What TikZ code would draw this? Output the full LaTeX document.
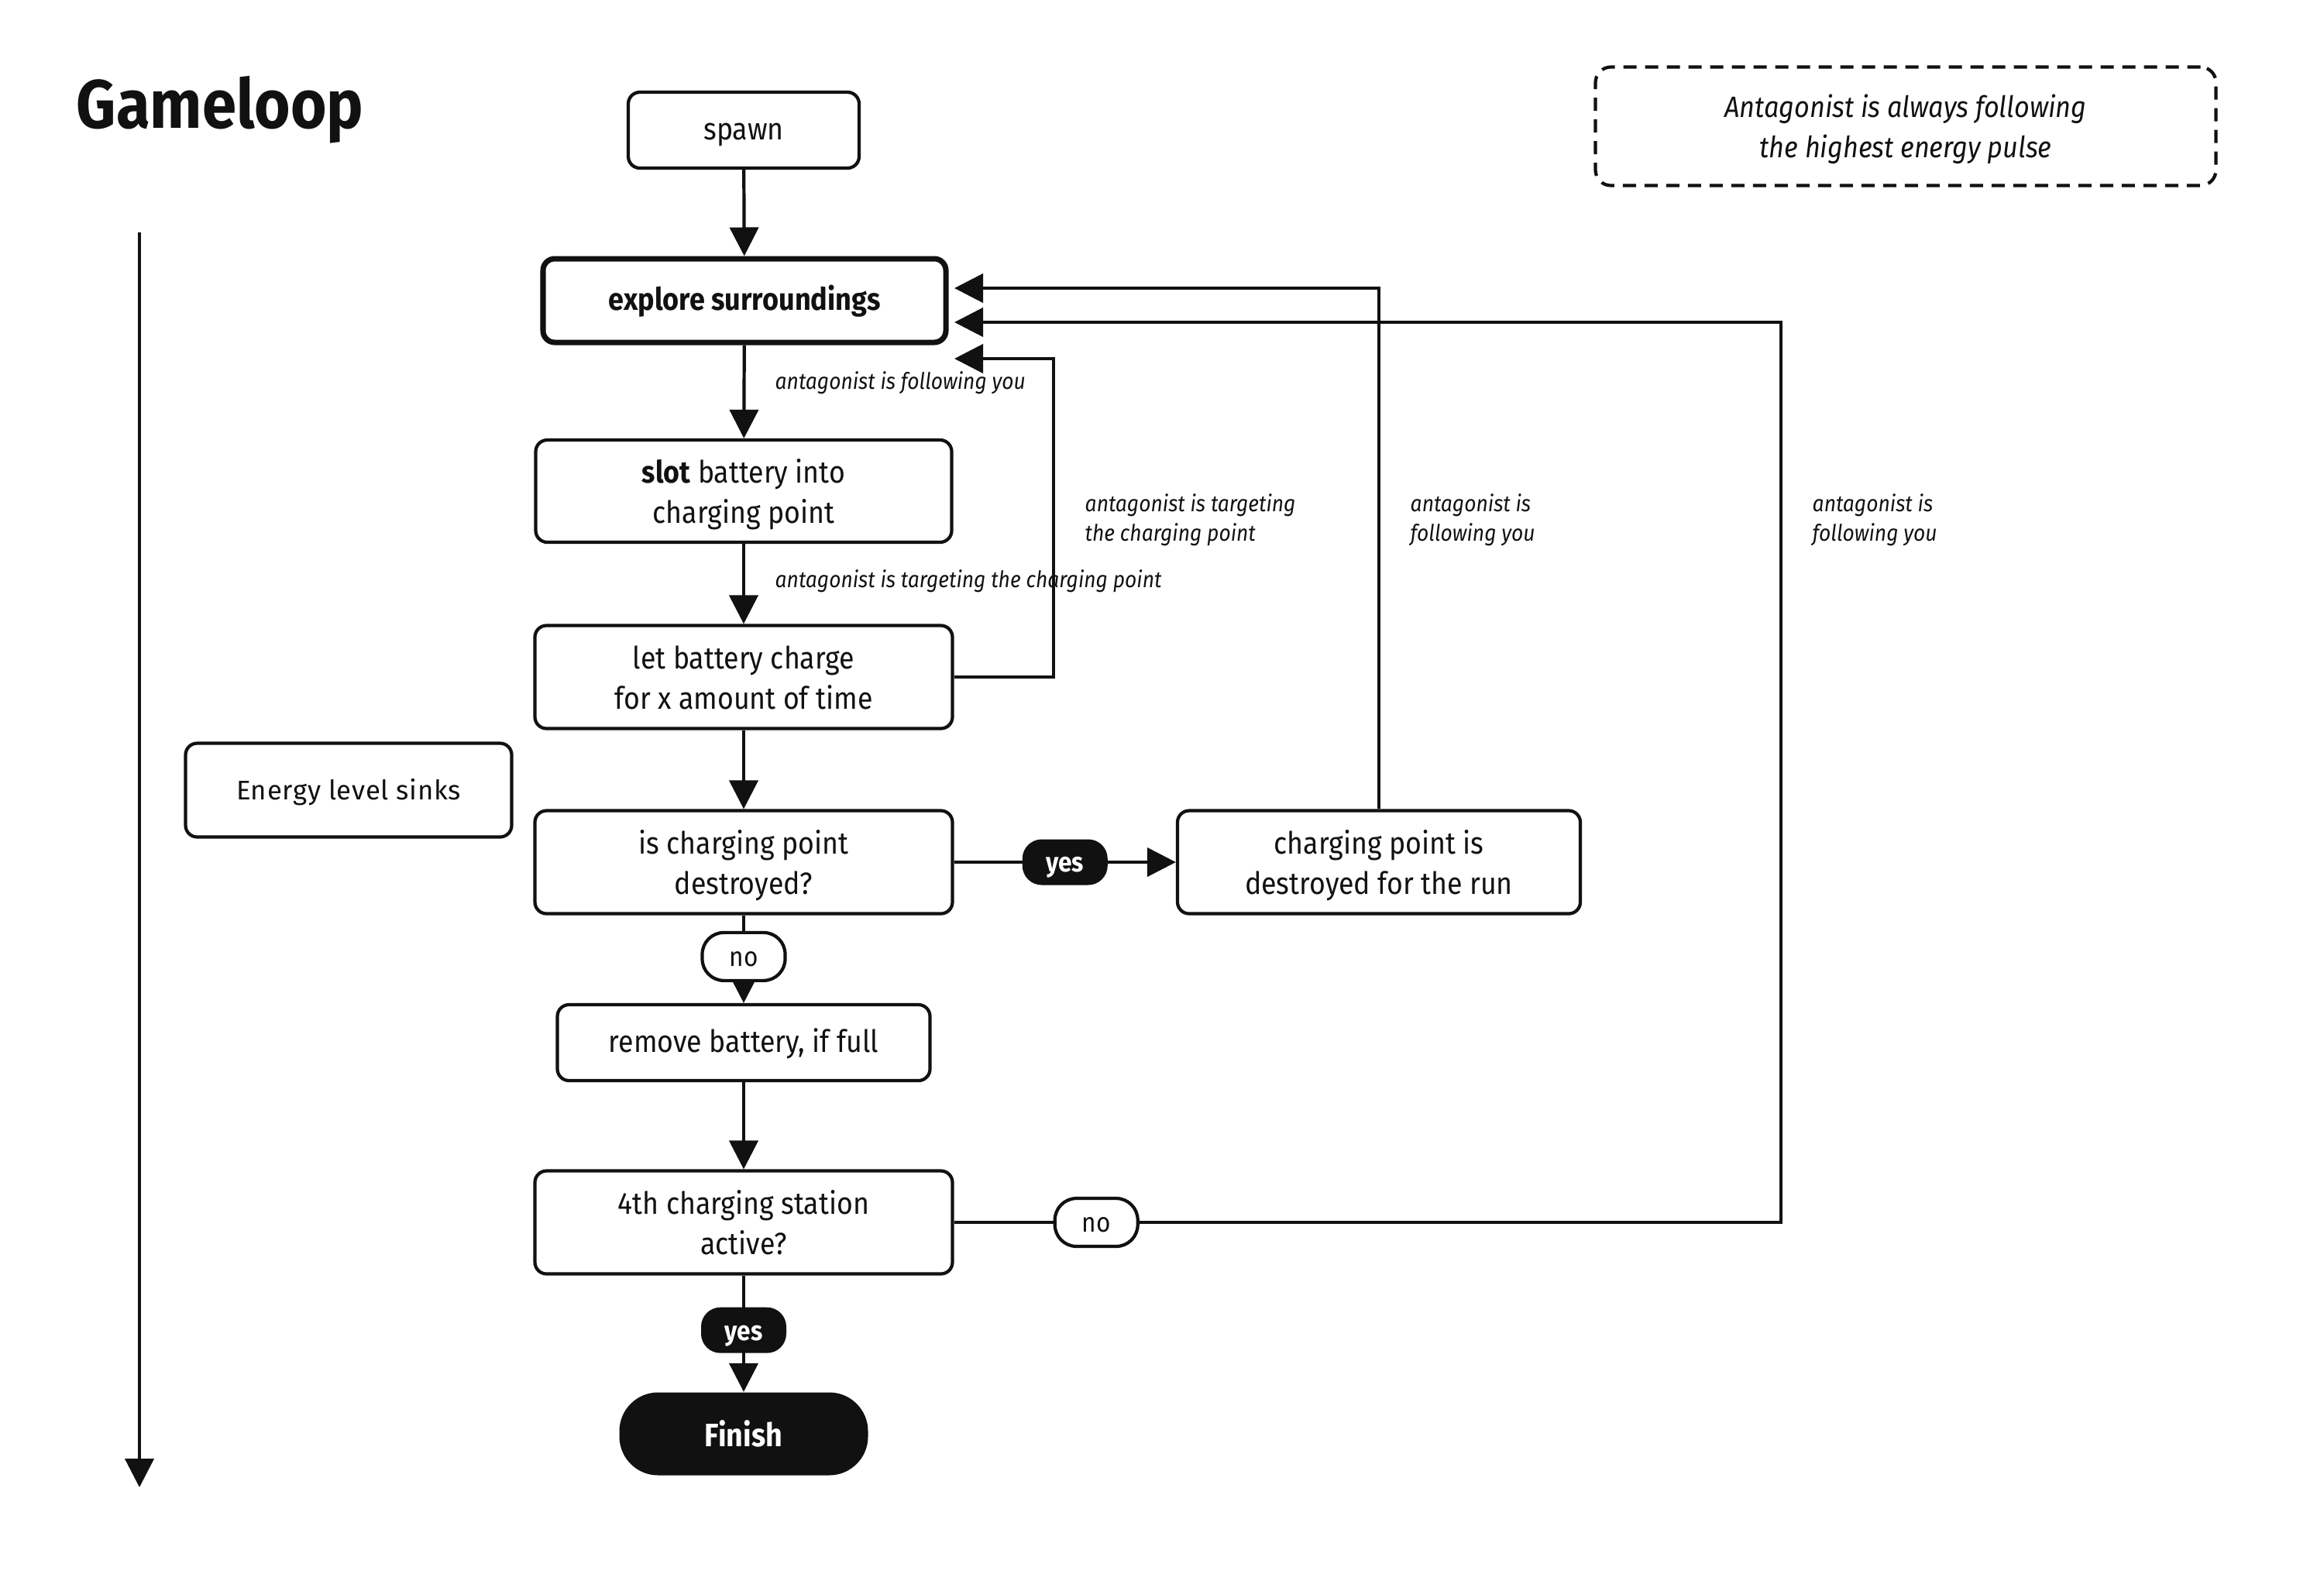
\documentclass[tikz,border=0pt]{standalone}
\usepackage{fontspec}
\setmainfont{Fira Sans}[FakeStretch=0.9]
\newfontfamily\widefont{Fira Sans}[LetterSpace=2]
\usetikzlibrary{arrows.meta,calc}
\definecolor{ink}{HTML}{111111}

% struts that fix the height of a first line and the depth of a last line
\newcommand\firstlinestrut{\rule{0pt}{1.0em}}
\newcommand\lastlinestrut{\rule[-0.22em]{0pt}{0pt}}

\tikzset{
  every node/.style={text=ink},
  oneline/.style={text height=0.95em, text depth=0.22em},
  box/.style={draw=ink, line width=1.2pt, rounded corners=0.15cm, fill=white,
    align=center, inner sep=0pt, font=\fontsize{11.3}{14.8}\selectfont},
  boldbox/.style={box, line width=2pt, font=\fontsize{11.4}{14.8}\selectfont\bfseries},
  darkpill/.style={oneline, fill=ink, text=white, rounded corners=0.25cm, inner sep=0pt,
    minimum width=1.10cm, minimum height=0.59cm, font=\fontsize{10}{12}\selectfont\bfseries},
  lightpill/.style={oneline, draw=ink, line width=1.2pt, fill=white, rounded corners=0.28cm,
    inner sep=0pt, minimum width=1.07cm, minimum height=0.62cm,
    font=\fontsize{10}{12}\selectfont},
  link/.style={draw=ink, line width=1.2pt},
  arr/.style={link, -{Triangle[length=0.37cm,width=0.37cm]}},
  remark/.style={font=\fontsize{8.35}{10.8}\selectfont\itshape, align=left,
    anchor=west, inner sep=0pt},
}

\begin{document}
\begin{tikzpicture}
\useasboundingbox (0,0) rectangle (30,-20.4);

% heading
\node[anchor=base west, inner sep=0pt, font=\fontsize{25.2}{30}\selectfont\bfseries]
  (title) at (0.98,-1.65) {Gameloop};

% side note
\node[box, dashed, dash pattern=on 0.17cm off 0.11cm, rounded corners=0.2cm,
  minimum width=8.01cm, minimum height=1.53cm,
  font=\fontsize{10.8}{14.8}\selectfont\itshape] (note) at (24.60,-1.63)
  {\firstlinestrut Antagonist is always following\\the highest energy pulse\lastlinestrut};

% main steps
\node[box, oneline, minimum width=2.98cm, minimum height=0.98cm] (spawn) at (9.60,-1.68) {spawn};
\node[boldbox, oneline, minimum width=5.20cm, minimum height=1.08cm] (explore) at (9.61,-3.88)
  {explore surroundings};
\node[box, minimum width=5.37cm, minimum height=1.32cm] (slot) at (9.60,-6.34)
  {\firstlinestrut\textbf{slot} battery into\\charging point\lastlinestrut};
\node[box, minimum width=5.39cm, minimum height=1.33cm] (charge) at (9.60,-8.74)
  {\firstlinestrut let battery charge\\for x amount of time\lastlinestrut};
\node[box, minimum width=5.39cm, minimum height=1.33cm] (isdest) at (9.60,-11.13)
  {\firstlinestrut is charging point\\destroyed?\lastlinestrut};
\node[box, minimum width=5.20cm, minimum height=1.33cm] (cpdest) at (17.80,-11.13)
  {\firstlinestrut charging point is\\destroyed for the run\lastlinestrut};
\node[box, oneline, minimum width=4.81cm, minimum height=0.98cm] (remove) at (9.60,-13.46)
  {remove battery, if full};
\node[box, minimum width=5.39cm, minimum height=1.33cm] (fourth) at (9.60,-15.78)
  {\firstlinestrut 4th charging station\\active?\lastlinestrut};
\node[text height=1.13em, text depth=0.22em, fill=ink, text=white,
  rounded corners=0.5cm, inner sep=0pt,
  minimum width=3.21cm, minimum height=1.07cm,
  font=\fontsize{11.9}{14.8}\selectfont\bfseries] (finish) at (9.60,-18.51) {Finish};

\node[box, oneline, minimum width=4.21cm, minimum height=1.21cm,
  font=\widefont\fontsize{9.9}{12}\selectfont] (energy) at (4.50,-10.20) {Energy level sinks};

% edge remarks
\node[remark] (lab1) at (10.00,-4.94) {antagonist is following you};
\node[remark] (lab2) at (10.00,-7.50) {antagonist is targeting the charging point};
\node[remark] (lab3) at (14.00,-6.71) {antagonist is targeting\\the charging point};
\node[remark] (lab4) at (18.20,-6.71) {antagonist is\\following you};
\node[remark] (lab5) at (23.39,-6.71) {antagonist is\\following you};

% time axis
\coordinate (tl0) at (1.80,-3.00);
\coordinate (tl1) at (1.80,-19.20);
\draw[arr] (tl0) -- (tl1);

% forward flow
\draw[arr] (spawn) -- (explore);
\draw[arr] (explore) -- (slot);
\draw[arr] (slot) -- (charge);
\draw[arr] (charge) -- (isdest);
\draw[arr] (isdest) -- node[darkpill]{yes} (cpdest);
\draw[arr] (isdest) -- node[lightpill, pos=0.47]{no} (remove);
\draw[arr] (remove) -- (fourth);
\draw[arr] (fourth) -- node[darkpill, pos=0.47]{yes} (finish);

% loops back to exploring
\coordinate (tipA) at (12.32,-3.72);
\coordinate (tipB) at (12.32,-4.16);
\coordinate (tipC) at (12.32,-4.63);
\coordinate (bendC) at (13.60,-4.63);
\coordinate (bendB) at (22.99,-15.78);
\draw[arr] (charge.east) -| (bendC) -- (tipC);
\draw[arr] (cpdest.north) |- (tipA);
\draw[arr] (fourth.east) -- node[lightpill, pos=0.172]{no} (bendB) |- (tipB);
\end{tikzpicture}
\end{document}
